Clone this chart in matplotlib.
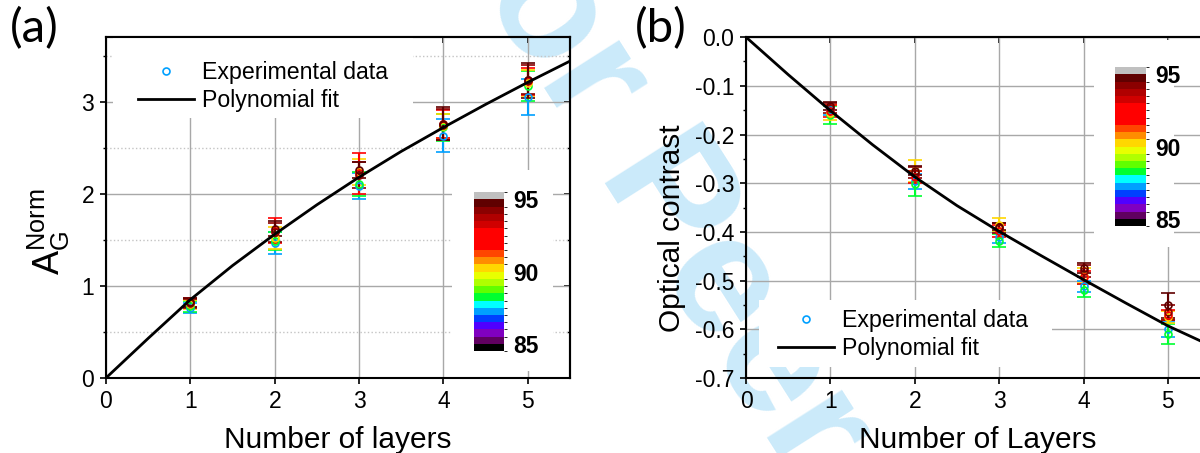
# Normalised G-band area and optical contrast versus number of layers,
# one error-bar series per colour of the colour scale.

import matplotlib
matplotlib.use('Agg')
import matplotlib.pyplot as plt
from matplotlib.colors import ListedColormap, BoundaryNorm
from matplotlib.cm import ScalarMappable
from matplotlib.lines import Line2D
from matplotlib.patches import Rectangle
from matplotlib.ticker import MultipleLocator

plt.rcParams['font.family'] = ['Liberation Sans', 'DejaVu Sans']

# ---- data ----
layers = [1, 2, 3, 4, 5]
angles = [87.2, 88.2, 90.2, 92.0, 94.2, 94.7]   # value on the colour scale for each series

# panel (a): A_G^Norm, one row per angle
a_values = [[0.76, 1.47, 2.08, 2.63, 3.05],
            [0.78, 1.49, 2.11, 2.72, 3.17],
            [0.80, 1.52, 2.24, 2.74, 3.20],
            [0.82, 1.60, 2.22, 2.76, 3.22],
            [0.81, 1.58, 2.20, 2.75, 3.24],
            [0.82, 1.62, 2.26, 2.76, 3.23]]
a_errors = [[0.05, 0.12, 0.14, 0.18, 0.20],
            [0.06, 0.10, 0.13, 0.15, 0.16],
            [0.05, 0.12, 0.14, 0.13, 0.14],
            [0.05, 0.14, 0.22, 0.15, 0.15],
            [0.05, 0.10, 0.14, 0.17, 0.16],
            [0.05, 0.08, 0.09, 0.18, 0.19]]

# panel (b): optical contrast, one row per angle
b_values = [[-0.150, -0.296, -0.410, -0.512, -0.600],
            [-0.160, -0.301, -0.418, -0.520, -0.610],
            [-0.155, -0.275, -0.385, -0.490, -0.575],
            [-0.152, -0.287, -0.398, -0.493, -0.571],
            [-0.145, -0.278, -0.392, -0.480, -0.565],
            [-0.142, -0.274, -0.389, -0.474, -0.551]]
b_errors = [[0.010, 0.015, 0.012, 0.012, 0.015],
            [0.018, 0.026, 0.013, 0.013, 0.020],
            [0.015, 0.022, 0.014, 0.015, 0.012],
            [0.012, 0.012, 0.012, 0.013, 0.010],
            [0.010, 0.012, 0.010, 0.013, 0.015],
            [0.008, 0.010, 0.008, 0.010, 0.025]]

# polynomial fit curves read at half-layer steps
fit_x = [0, 0.5, 1, 1.5, 2, 2.5, 3, 3.5, 4, 4.5, 5, 5.5]
a_fit = [0, 0.43, 0.85, 1.22, 1.56, 1.88, 2.18, 2.46, 2.72, 2.97, 3.21, 3.44]
b_fit = [0, -0.077, -0.151, -0.221, -0.287, -0.346, -0.399, -0.449, -0.498, -0.546, -0.593, -0.633]

# colour scale (bottom to top) and its boundaries
scale_colors = ['#000000', '#600060', '#8000c0', '#5000ff', '#0040ff', '#00a0ff',
                '#00ffff', '#00ff30', '#60ff00', '#b0ff00', '#e8ff00', '#ffd700',
                '#ff8c00', '#ff4500', '#ff0000', '#ff0000', '#ff0000', '#d00000',
                '#b00000', '#8b0000', '#600000', '#c0c0c0']
scale_bounds = [84.5 + 0.5 * i for i in range(len(scale_colors) + 1)]
scale_ticks = [85, 90, 95]

cmap = ListedColormap(scale_colors)
norm = BoundaryNorm(scale_bounds, cmap.N)

fig = plt.figure(figsize=(12, 4.53), dpi=100)
fig.set_facecolor('white')

# watermark behind everything
fig.text(0.355, 1.215, 'For Peer Review', rotation=-57.5, rotation_mode='anchor',
         ha='left', va='baseline', fontsize=122, fontweight='bold',
         color='#cbeafa', zorder=-10)

ax_a = fig.add_axes([0.0883, 0.1656, 0.3867, 0.7524])
ax_b = fig.add_axes([0.6217, 0.1656, 0.3867, 0.7524])


def draw_panel(ax, values, errors, fit, ylim):
    ax.patch.set_visible(False)
    ax.set_axisbelow(True)
    for ang, vals, errs in zip(angles, values, errors):
        c = cmap(norm(ang))
        ax.errorbar(layers, vals, yerr=errs, fmt='o', ms=5, mfc='none', mec=c, mew=1.2,
                    ecolor=c, elinewidth=1.5, capsize=5, capthick=1.6, zorder=3)
    ax.plot(fit_x, fit, color='black', lw=2, zorder=4)
    ax.set_xlim(0, 5.5)
    ax.set_ylim(*ylim)
    ax.set_xticks([0, 1, 2, 3, 4, 5])
    ax.grid(True, which='major', color='#a8a8a8', lw=1)
    for s in ax.spines.values():
        s.set_linewidth(1.5)
    ax.tick_params(which='major', direction='out', length=4.5, width=1.2,
                   labelsize=16.5, pad=4)
    ax.tick_params(which='minor', direction='out', length=2.5, width=1)
    # inward ticks on top
    top = ax.secondary_xaxis('top')
    top.set_xticks([0, 1, 2, 3, 4, 5])
    top.tick_params(direction='in', length=4.5, width=1.2, labeltop=False)
    top.spines['top'].set_linewidth(1.5)


# ---- panel (a) ----
draw_panel(ax_a, a_values, a_errors, a_fit, (0, 3.7))
ax_a.set_yticks([0, 1, 2, 3])
ax_a.yaxis.set_minor_locator(MultipleLocator(0.5))
ax_a.grid(True, which='minor', axis='y', color='#c4c4c4', ls=':', lw=1)
right = ax_a.secondary_yaxis('right')
right.set_yticks([0, 1, 2, 3])
right.yaxis.set_minor_locator(MultipleLocator(0.5))
right.tick_params(which='major', direction='in', length=4.5, width=1.2, labelright=False)
right.tick_params(which='minor', direction='in', length=2.5, width=1)
right.spines['right'].set_linewidth(1.5)
ax_a.set_xlabel('Number of layers', fontsize=21.5)
ax_a.xaxis.set_label_coords(0.5, -0.14)
ax_a.set_ylabel(r'$\mathregular{A_G^{Norm}}$', fontsize=26)
ax_a.yaxis.set_label_coords(-0.073, 0.43)

# white boxes hiding the grid behind legend and colour bar
ax_a.add_patch(Rectangle((0.015, 0.762), 0.647, 0.238, transform=ax_a.transAxes,
                         facecolor='white', edgecolor='none', zorder=1))
ax_a.add_patch(Rectangle((0.745, 0.02), 0.218, 0.59, transform=ax_a.transAxes,
                         facecolor='white', edgecolor='none', zorder=1))

# ---- panel (b) ----
draw_panel(ax_b, b_values, b_errors, b_fit, (-0.7, 0.0))
ax_b.set_yticks([-0.7, -0.6, -0.5, -0.4, -0.3, -0.2, -0.1, 0.0])
ax_b.yaxis.set_major_formatter(lambda v, p: '%.1f' % v if abs(v) > 1e-9 else '0.0')
ax_b.yaxis.set_minor_locator(MultipleLocator(0.05))
ax_b.set_xlabel('Number of Layers', fontsize=21.5)
ax_b.xaxis.set_label_coords(0.5, -0.14)
ax_b.set_ylabel('Optical contrast', fontsize=21.5)
ax_b.yaxis.set_label_coords(-0.129, 0.44)

ax_b.add_patch(Rectangle((0.028, 0.032), 0.631, 0.197, transform=ax_b.transAxes,
                         facecolor='white', edgecolor='none', zorder=1))
ax_b.add_patch(Rectangle((0.75, 0.384), 0.172, 0.607, transform=ax_b.transAxes,
                         facecolor='white', edgecolor='none', zorder=1))

# ---- legends ----
marker_color = cmap(norm(angles[0]))
handles = [Line2D([], [], ls='none', marker='o', ms=5, mfc='none', mec=marker_color, mew=1.2),
           Line2D([], [], color='black', lw=2)]
labels = ['Experimental data', 'Polynomial fit']
for ax, anchor in [(ax_a, (0.069, 0.93)), (ax_b, (0.069, 0.202))]:
    ax.legend(handles, labels, loc='upper left', bbox_to_anchor=anchor, frameon=False,
              fontsize=16.7, handlelength=2.4, handletextpad=0.36, labelspacing=0.2,
              borderpad=0, borderaxespad=0)

# ---- colour bars ----
for ax, pos in [(ax_a, [0.793, 0.079, 0.0647, 0.466]), (ax_b, [0.796, 0.446, 0.0657, 0.466])]:
    cax = ax.inset_axes(pos)
    cb = fig.colorbar(ScalarMappable(norm=norm, cmap=cmap), cax=cax, ticks=scale_ticks)
    cb.outline.set_visible(False)
    cax.tick_params(length=0, pad=6.5)
    cax.set_yticklabels([str(t) for t in scale_ticks], fontsize=16.5, fontweight='bold')

# panel letters
fig.text(0.008, 0.985, '(a)', fontsize=34, family=['Lato', 'DejaVu Sans'], va='top', ha='left')
fig.text(0.529, 0.985, '(b)', fontsize=34, family=['Lato', 'DejaVu Sans'], va='top', ha='left')

fig.savefig('out.png', dpi=100)
